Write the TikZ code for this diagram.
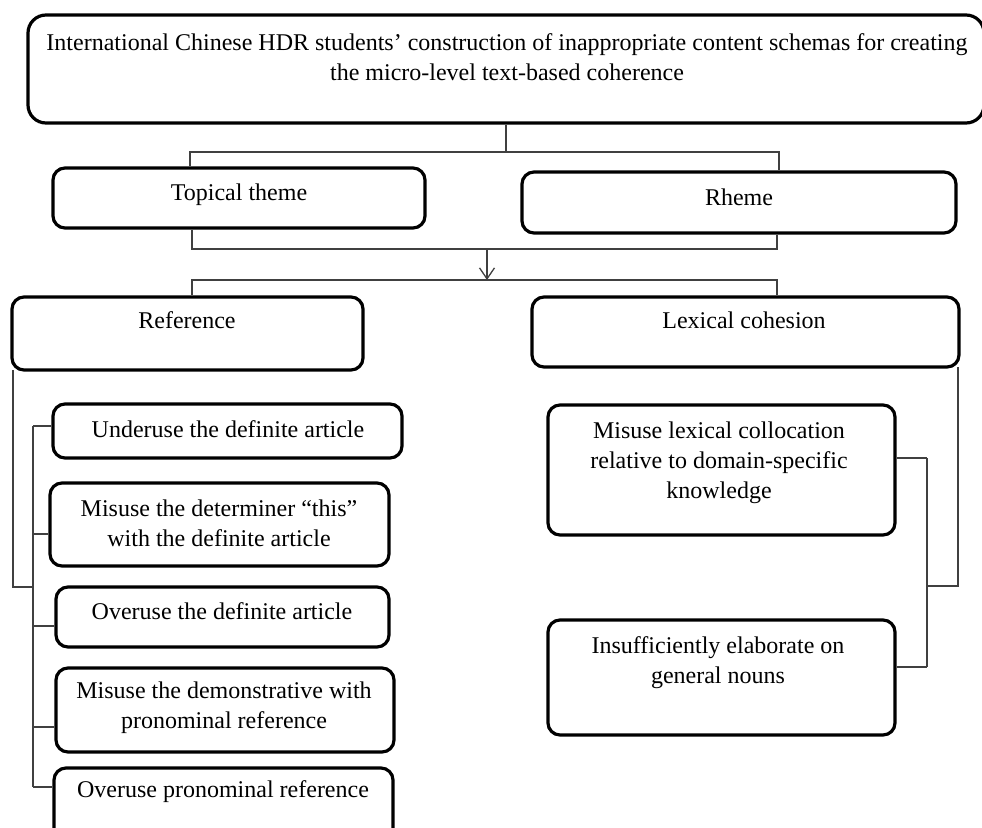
\documentclass[tikz,border=0pt]{standalone}
\usepackage{fontspec}
\setmainfont{Liberation Serif}
\usetikzlibrary{arrows.meta}
\begin{document}
\begin{tikzpicture}[x=1pt,y=-1pt,
  box/.style={draw=black, line width=3.2pt, rounded corners=12pt, inner sep=0pt},
  label/.style={inner sep=0pt, align=center, font=\fontsize{24}{30}\selectfont},
  link/.style={draw=black!75, line width=1.3pt},
  arrowlink/.style={link, -{Straight Barb[length=11pt,width=15pt,line width=1.3pt]}}]
\useasboundingbox (0,0) rectangle (982,827);

% boxes: centre, width, height
\node[box, rounded corners=18pt, minimum width=956pt, minimum height=108pt] (top) at (506,69) {};
\node[box, minimum width=372pt, minimum height=60pt] (topical) at (239,198) {};
\node[box, minimum width=434pt, minimum height=61pt] (rheme) at (739,202.5) {};
\node[box, minimum width=351pt, minimum height=73pt] (reference) at (187.5,333.5) {};
\node[box, minimum width=427pt, minimum height=70pt] (lexical) at (745.5,332) {};
\node[box, minimum width=349pt, minimum height=54pt] (u1) at (227.5,431) {};
\node[box, minimum width=339pt, minimum height=83pt] (u2) at (219.5,524.5) {};
\node[box, minimum width=333pt, minimum height=60pt] (u3) at (222.5,617) {};
\node[box, minimum width=338pt, minimum height=84pt] (u4) at (225,710) {};
\node[box, minimum width=339pt, minimum height=72pt] (u5) at (223.5,804) {};
\node[box, minimum width=347pt, minimum height=130pt] (la) at (721.5,470) {};
\node[box, minimum width=347pt, minimum height=115pt] (lb) at (721.5,677.5) {};

% texts
\node[label] (ttop) at (507,57.5) {International Chinese HDR students’ construction of inappropriate content schemas for creating\\the micro-level text-based coherence};
\node[label] (ttopical) at (239,195) {Topical theme};
\node[label] (trheme) at (739,197) {Rheme};
\node[label] (tref) at (187,320) {Reference};
\node[label] (tlex) at (744,320) {Lexical cohesion};
\node[label] (tu1) at (228,429) {Underuse the definite article};
\node[label] (tu2) at (219,523) {Misuse the determiner “this”\\with the definite article};
\node[label] (tu3) at (222,611) {Overuse the definite article};
\node[label] (tu4) at (224,708) {Misuse the demonstrative with\\pronominal reference};
\node[label] (tu5) at (223,792) {Overuse pronominal reference};
\node[label] (tla) at (719,462.5) {Misuse lexical collocation\\relative to domain-specific\\knowledge};
\node[label] (tlb) at (718,662.5) {Insufficiently elaborate on\\general nouns};

% junction points
\coordinate (h1) at (506,152);
\coordinate (a1) at (190,152);
\coordinate (a2) at (779,152);
\coordinate (b1) at (192,249);
\coordinate (b2) at (777,249);
\coordinate (ar1) at (487,249);
\coordinate (ar2) at (487,280);
\coordinate (c1) at (192,280);
\coordinate (c2) at (777,280);
\coordinate (L0) at (13,370);
\coordinate (L1) at (13,587);
\coordinate (s1) at (33,426);
\coordinate (s2) at (33,534);
\coordinate (s3) at (33,626);
\coordinate (s4) at (33,727);
\coordinate (s5) at (33,787);
\coordinate (R0) at (958,367);
\coordinate (R1) at (958,586);
\coordinate (t1) at (927,458);
\coordinate (t2) at (927,667);

% upper tree
\draw[link] (top.south -| h1) -- (h1);
\draw[link] (topical.north -| a1) -- (a1) -- (a2) -- (rheme.north -| a2);
\draw[link] (topical.south -| b1) -- (b1) -- (b2) -- (rheme.south -| b2);
\draw[arrowlink] (ar1) -- (ar2);
\draw[link] (reference.north -| c1) -- (c1) -- (c2) -- (lexical.north -| c2);

% reference bracket
\draw[link] (L0) -- (L1) -- (L1 -| s1);
\draw[link] (s1) -- (s5);
\draw[link] (s1) -- (s1 -| u1.west);
\draw[link] (s2) -- (s2 -| u2.west);
\draw[link] (s3) -- (s3 -| u3.west);
\draw[link] (s4) -- (s4 -| u4.west);
\draw[link] (s5) -- (s5 -| u5.west);

% lexical cohesion bracket
\draw[link] (R0) -- (R1) -- (R1 -| t1);
\draw[link] (t1) -- (t2);
\draw[link] (t1) -- (t1 -| la.east);
\draw[link] (t2) -- (t2 -| lb.east);
\end{tikzpicture}
\end{document}
